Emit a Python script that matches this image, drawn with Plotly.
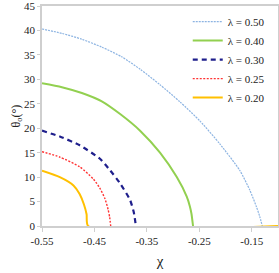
import plotly.graph_objects as go

# Data
chi_050 = [-0.55, -0.512, -0.474, -0.436, -0.398, -0.362, -0.325, -0.287, -0.249, -0.211, -0.173, -0.154, -0.141, -0.135, -0.130]
th_050 = [40.3, 39.4, 38.2, 36.6, 34.6, 32.0, 28.9, 25.4, 21.5, 16.8, 11.4, 7.4, 3.9, 2.0, 0.0]

chi_040 = [-0.55, -0.512, -0.474, -0.436, -0.401, -0.363, -0.325, -0.293, -0.274, -0.268, -0.265, -0.262]
th_040 = [29.2, 28.4, 27.2, 25.5, 22.9, 19.5, 15.0, 10.0, 6.0, 4.0, 2.5, 0.0]

chi_030 = [-0.55, -0.516, -0.478, -0.440, -0.421, -0.401, -0.382, -0.375, -0.371]
th_030 = [19.5, 18.3, 16.5, 13.8, 11.5, 8.7, 5.3, 2.8, 0.0]

chi_025 = [-0.55, -0.516, -0.478, -0.452, -0.440, -0.430, -0.424, -0.421, -0.419]
th_025 = [15.2, 14.1, 12.1, 9.6, 7.8, 5.6, 3.4, 1.8, 0.0]

chi_020 = [-0.55, -0.516, -0.490, -0.478, -0.470, -0.465, -0.462, -0.10]
th_020 = [11.3, 10.0, 8.3, 6.5, 4.4, 2.4, 0.0, 0.0]

labels = ["λ = 0.50", "λ = 0.40", "λ = 0.30", "λ = 0.25", "λ = 0.20"]
x_ticks = [-0.55, -0.45, -0.35, -0.25, -0.15]
y_ticks = [0, 5, 10, 15, 20, 25, 30, 35, 40, 45]

series = [
    (chi_050, th_050, labels[0], dict(color="#8DB4E2", width=1.2, dash="2px,1px")),
    (chi_040, th_040, labels[1], dict(color="#92D050", width=2, dash="solid")),
    (chi_030, th_030, labels[2], dict(color="#1F1F8C", width=2.2, dash="5px,4px")),
    (chi_025, th_025, labels[3], dict(color="#FF3333", width=1.4, dash="2px,1.5px")),
    (chi_020, th_020, labels[4], dict(color="#FFC000", width=2, dash="solid")),
]

fig = go.Figure()
for x, y, name, line in series:
    fig.add_trace(go.Scatter(x=x, y=y, mode="lines", name=name,
                             line=dict(shape="spline", smoothing=0.6, **line)))

font = "Liberation Serif, Times New Roman, serif"
fig.update_layout(
    width=279, height=273,
    margin=dict(l=42, r=1, t=6, b=47, autoexpand=False),
    plot_bgcolor="white", paper_bgcolor="white",
    font=dict(family=font, size=11, color="#222"),
    legend=dict(x=0.965, y=0.995, xanchor="right", yanchor="top",
                bgcolor="rgba(0,0,0,0)", font=dict(size=11, family=font),
                itemwidth=30, tracegroupgap=0),
    xaxis=dict(range=[-0.55, -0.10], tickvals=x_ticks,
               ticktext=[f"{v:.2f}" for v in x_ticks],
               showgrid=False, zeroline=False, showline=True, mirror=True,
               linecolor="#CFCFCF", linewidth=1.5, ticks="outside",
               ticklen=4, tickcolor="#CFCFCF", automargin=False,
               title=dict(text="χ", font=dict(size=15, family=font), standoff=10),
               tickfont=dict(size=11, family=font)),
    yaxis=dict(range=[0, 45], tickvals=y_ticks,
               showgrid=False, zeroline=False, showline=True, mirror=True,
               linecolor="#CFCFCF", linewidth=1.5, ticks="outside",
               ticklen=3, tickcolor="#CFCFCF", automargin=False,
               ticklabeloverflow="allow",
               title=dict(text="θ<sub>o</sub>(°)", font=dict(size=12, family=font), standoff=1),
               tickfont=dict(size=11, family=font)),
)

fig.write_html("out.html", config={"displayModeBar": False},
               post_script="document.body.style.margin='0';document.body.style.padding='0';")
